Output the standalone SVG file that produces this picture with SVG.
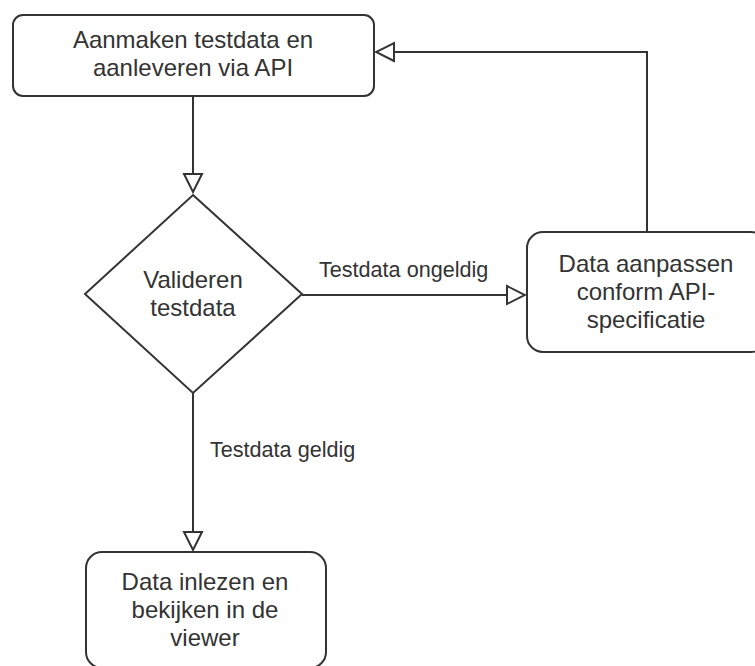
<svg xmlns="http://www.w3.org/2000/svg" width="755" height="666" viewBox="0 0 755 666">
<style>
.box{fill:#fff;stroke:#333;stroke-width:2}
.edge{fill:none;stroke:#333;stroke-width:2}
.t{font-family:"Liberation Sans",Arial,sans-serif;font-size:24px;fill:#333;text-anchor:middle}
.lbl{font-family:"Liberation Sans",Arial,sans-serif;font-size:21.6px;fill:#333;text-anchor:start}
</style>
<defs>
<marker id="arr" markerUnits="userSpaceOnUse" markerWidth="22" markerHeight="22" viewBox="0 0 22 22" refX="20" refY="11" orient="auto">
<path d="M2,2 L20,11 L2,20 Z" fill="#fff" stroke="#333" stroke-width="2"/>
</marker>
</defs>
<rect width="755" height="666" fill="#fff"/>
<g id="connectors">
<path class="edge" d="M193,96 L193,192" marker-end="url(#arr)"/>
<path class="edge" d="M302,295 L525,295" marker-end="url(#arr)"/>
<path class="edge" d="M647,232 L647,52 L376,52" marker-end="url(#arr)"/>
<path class="edge" d="M193,393 L193,550" marker-end="url(#arr)"/>
<text class="lbl" x="319" y="277">Testdata ongeldig</text>
<text class="lbl" x="210" y="457">Testdata geldig</text>
</g>
<g id="node-aanmaken">
<rect class="box" x="13" y="15" width="361" height="81" rx="10" ry="10"/>
<text class="t" x="193" y="48">Aanmaken testdata en</text>
<text class="t" x="193" y="76">aanleveren via API</text>
</g>
<g id="node-valideren">
<path class="box" d="M193,195 L302,294 L193,393 L85,294 Z"/>
<text class="t" x="193" y="288">Valideren</text>
<text class="t" x="193" y="316">testdata</text>
</g>
<g id="node-aanpassen">
<rect class="box" x="527" y="232" width="240" height="120" rx="16" ry="16"/>
<text class="t" x="646" y="272">Data aanpassen</text>
<text class="t" x="646" y="300">conform API-</text>
<text class="t" x="646" y="328">specificatie</text>
</g>
<g id="node-inlezen">
<rect class="box" x="86" y="552" width="240" height="116" rx="16" ry="16"/>
<text class="t" x="205" y="590">Data inlezen en</text>
<text class="t" x="205" y="618">bekijken in de</text>
<text class="t" x="205" y="646">viewer</text>
</g>
</svg>
